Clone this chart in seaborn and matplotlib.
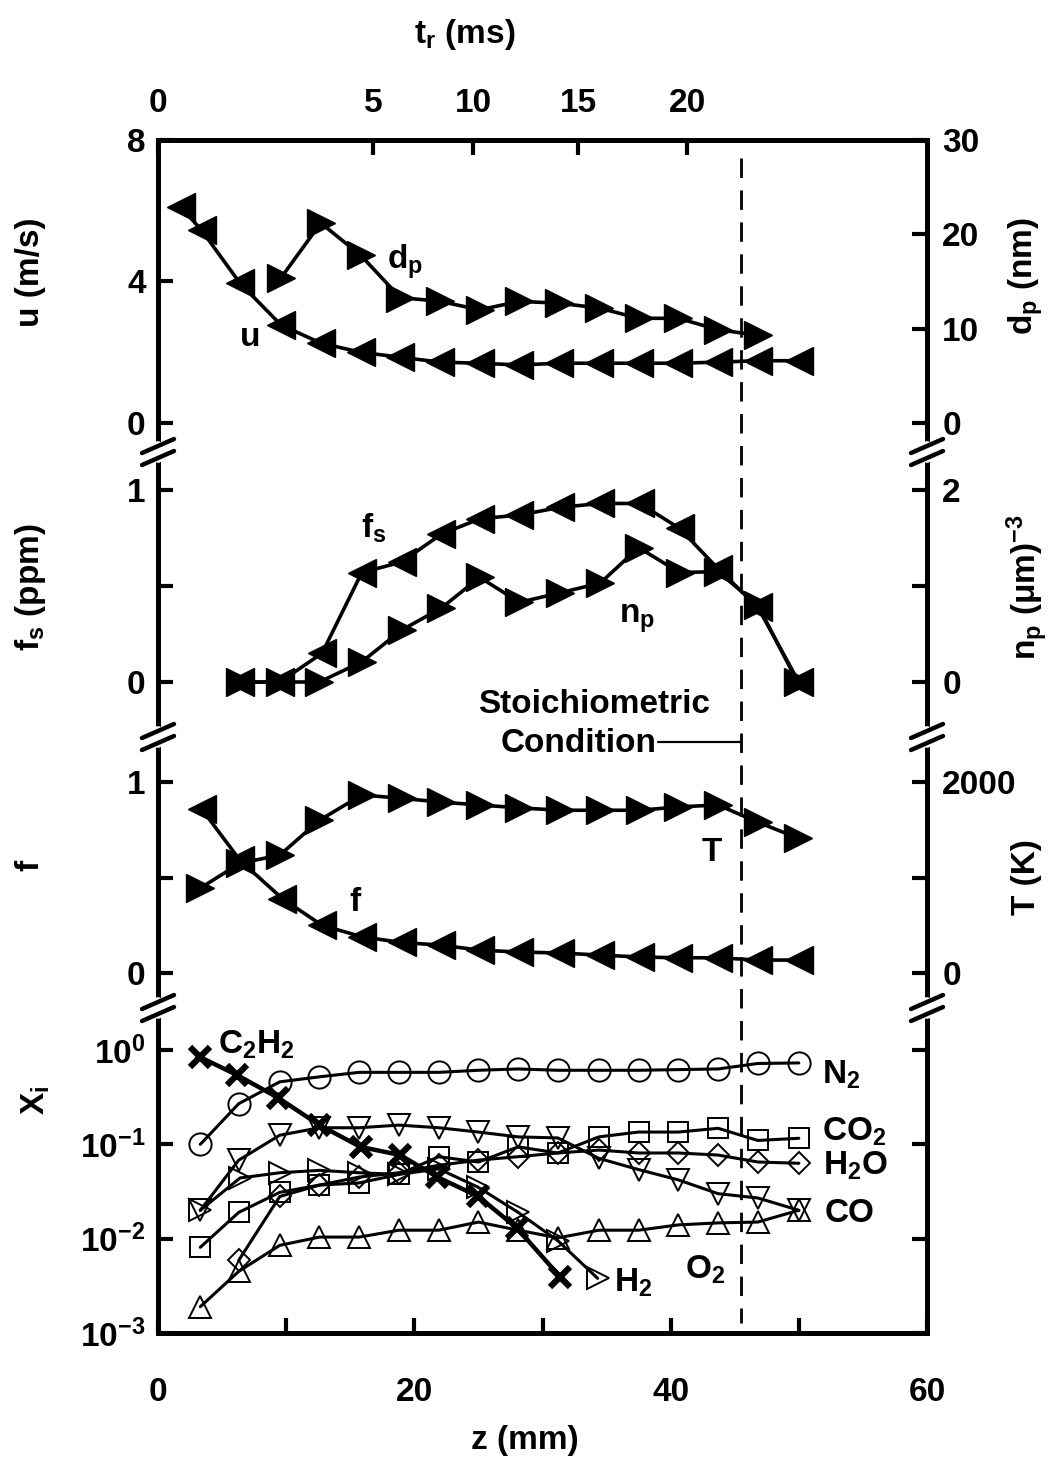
import numpy as np
import matplotlib
matplotlib.use("Agg")
import matplotlib.pyplot as plt
import seaborn as sns
from matplotlib.lines import Line2D
from matplotlib import transforms
from matplotlib.ticker import FixedLocator, FuncFormatter, NullLocator

# ---------------- data ----------------
# panel 1 : axial velocity u (m/s) and particle diameter d_p (nm)
z_u = [1.8, 3.4, 6.4, 9.6, 12.7, 15.8, 18.9, 22.0, 25.1, 28.2, 31.3, 34.4, 37.5, 40.6, 43.7, 46.8, 50.0]
u_vals = [6.1, 5.45, 3.95, 2.77, 2.26, 2.0, 1.86, 1.72, 1.69, 1.64, 1.69, 1.69, 1.69, 1.69, 1.72, 1.76, 1.76]
z_dp = [9.6, 12.7, 15.8, 18.9, 22.0, 25.1, 28.2, 31.3, 34.4, 37.5, 40.6, 43.7, 46.8]
dp_vals = [15.4, 21.2, 17.8, 13.3, 12.9, 12.0, 12.9, 12.7, 12.2, 11.1, 11.1, 9.9, 9.3]

# panel 2 : soot volume fraction f_s (ppm) and number density n_p
z_fs = [6.4, 9.5, 12.8, 15.9, 19.0, 22.1, 25.1, 28.2, 31.4, 34.5, 37.6, 40.7, 43.7, 46.8, 50.0]
fs_vals = [0.0, 0.0, 0.15, 0.57, 0.625, 0.77, 0.85, 0.87, 0.91, 0.93, 0.93, 0.80, 0.59, 0.39, 0.0]
z_np = [6.4, 9.5, 12.6, 15.9, 19.0, 22.1, 25.1, 28.2, 31.4, 34.5, 37.5, 40.7, 43.7, 46.8, 49.9]
np_vals = [0.0, 0.0, 0.0, 0.21, 0.54, 0.77, 1.09, 0.83, 0.93, 1.03, 1.40, 1.14, 1.15, 0.80, 0.0]

# panel 3 : mixture fraction f and temperature T (K)
z_f = [3.4, 6.4, 9.7, 12.8, 15.9, 19.0, 22.1, 25.1, 28.2, 31.4, 34.5, 37.6, 40.6, 43.7, 46.8, 50.0]
f_vals = [0.86, 0.59, 0.39, 0.25, 0.19, 0.16, 0.146, 0.12, 0.11, 0.105, 0.094, 0.084, 0.08, 0.08, 0.068, 0.068]
z_T = [3.3, 6.4, 9.5, 12.6, 15.9, 19.0, 22.1, 25.1, 28.2, 31.4, 34.5, 37.6, 40.6, 43.7, 46.8, 49.9]
T_vals = [890, 1150, 1235, 1600, 1865, 1830, 1790, 1760, 1730, 1705, 1705, 1705, 1740, 1760, 1580, 1415]

# panel 4 : species mole fractions X_i
z_sp = [3.3, 6.3, 9.5, 12.6, 15.7, 18.8, 21.9, 25.0, 28.1, 31.2, 34.4, 37.5, 40.6, 43.7, 46.8, 50.0]
N2 = [0.10, 0.27, 0.46, 0.52, 0.58, 0.58, 0.58, 0.61, 0.63, 0.61, 0.61, 0.61, 0.62, 0.63, 0.72, 0.73]
CO2 = [0.0081, 0.019, 0.031, 0.037, 0.039, 0.048, 0.074, 0.065, 0.094, 0.081, 0.12, 0.135, 0.135, 0.148, 0.11, 0.116]
CO = [0.020, 0.068, 0.125, 0.15, 0.15, 0.16, 0.15, 0.135, 0.12, 0.117, 0.071, 0.054, 0.042, 0.030, 0.027, 0.020]
O2 = [0.0019, 0.0045, 0.0085, 0.0104, 0.0104, 0.0123, 0.0123, 0.015, 0.0123, 0.0102, 0.0123, 0.0123, 0.014, 0.0147, 0.015, 0.020]
z_h2o = [6.3, 9.5, 12.6, 15.7, 18.8, 21.9, 25.0, 28.1, 31.2, 34.4, 37.5, 40.6, 43.7, 46.8, 50.0]
H2O = [0.0059, 0.028, 0.037, 0.045, 0.050, 0.060, 0.068, 0.074, 0.081, 0.087, 0.081, 0.081, 0.077, 0.065, 0.063]
z_h2 = [3.3, 6.4, 9.5, 12.6, 15.7, 18.8, 21.9, 25.0, 28.1, 31.2, 34.3]
H2 = [0.020, 0.044, 0.050, 0.053, 0.050, 0.048, 0.055, 0.035, 0.019, 0.0095, 0.0038]
z_c2h2 = [3.3, 6.2, 9.4, 12.6, 15.8, 18.9, 21.8, 25.0, 28.0, 31.4]
C2H2 = [0.84, 0.54, 0.31, 0.16, 0.094, 0.077, 0.045, 0.028, 0.013, 0.0039]

# top axis : residence time t_r (ms) ticks and their z positions (mm)
tr_labels = ["0", "5", "10", "15", "20"]
tr_z = [0.0, 16.8, 24.6, 32.8, 41.3]
z_stoich = 45.5

# ---------------- style ----------------
sns.set_theme(style="white")
plt.rcParams["font.family"] = ["Liberation Sans", "DejaVu Sans"]
plt.rcParams["font.weight"] = "bold"
plt.rcParams["axes.labelweight"] = "bold"
plt.rcParams["text.color"] = "black"
plt.rcParams["axes.labelcolor"] = "black"
plt.rcParams["xtick.color"] = "black"
plt.rcParams["ytick.color"] = "black"
plt.rcParams["mathtext.fontset"] = "custom"
plt.rcParams["mathtext.rm"] = "Liberation Sans:bold"
plt.rcParams["mathtext.bf"] = "Liberation Sans:bold"
plt.rcParams["mathtext.it"] = "Liberation Sans:bold"
plt.rcParams["mathtext.default"] = "bf"
plt.rcParams["axes.unicode_minus"] = True

FS = 24
W, H = 1057, 1459
XL, XR = 158, 927
bounds = [140, 452, 737, 1008, 1333]

fig = plt.figure(figsize=(W / 100, H / 100), dpi=100)
fig.patch.set_facecolor("white")


def fx(px):
    return px / W


def fy(py):
    return 1 - py / H


def rect(t, b):
    return [fx(XL), fy(b), fx(XR) - fx(XL), (b - t) / H]


axes = [fig.add_axes(rect(bounds[i], bounds[i + 1])) for i in range(4)]
ax1, ax2, ax3, ax4 = axes
ax1r = ax1.twinx()
ax2r = ax2.twinx()
ax3r = ax3.twinx()
ax1t = ax1.twiny()

SW = 3.6
for a in [ax1, ax2, ax3, ax4, ax1r, ax2r, ax3r, ax1t]:
    a.set_facecolor("none")
    for s in a.spines.values():
        s.set_visible(False)
        s.set_linewidth(SW)
        s.set_color("black")
    a.grid(False)
    a.set_xlim(0, 60)
    a.tick_params(axis="both", which="both", direction="in", length=11, width=3,
                  labelsize=FS, color="black", labelcolor="black")

for a in [ax1, ax2, ax3, ax4]:
    a.spines["left"].set_visible(True)
for a in [ax1r, ax2r, ax3r]:
    a.spines["right"].set_visible(True)
ax4.spines["right"].set_visible(True)
ax4.spines["bottom"].set_visible(True)
ax1t.spines["top"].set_visible(True)

for a in [ax1, ax2, ax3, ax1r, ax2r, ax3r]:
    a.tick_params(axis="x", which="both", bottom=False, top=False,
                  labelbottom=False, labeltop=False)
ax1t.tick_params(axis="x", which="both", bottom=False, labelbottom=False,
                 top=True, labeltop=True, pad=15)
ax1t.tick_params(axis="y", left=False, right=False, labelleft=False, labelright=False)
ax1t.xaxis.set_major_locator(FixedLocator(tr_z))
ax1t.set_xticklabels(tr_labels)

for a in [ax1, ax2, ax3, ax4]:
    a.tick_params(axis="y", which="both", left=True, right=False, labelleft=True,
                  labelright=False, pad=9)
for a in [ax1r, ax2r, ax3r]:
    a.tick_params(axis="y", which="both", left=False, right=True, labelleft=False,
                  labelright=True, pad=11)


def draw(ax, x, y, marker, ms, lw, mfc="black", mew=1.0, zorder=3):
    sns.lineplot(x=x, y=y, ax=ax, color="black", linewidth=lw, marker=marker,
                 markersize=ms, markerfacecolor=mfc, markeredgecolor="black",
                 markeredgewidth=mew, sort=False, estimator=None, legend=False,
                 zorder=zorder)


# ---------------- panel 1 ----------------
draw(ax1, z_u, u_vals, "<", 20, 2.6)
draw(ax1r, z_dp, dp_vals, ">", 20, 2.6)
ax1.set_ylim(-0.82, 8.0)
ax1r.set_ylim(-3.07, 30.0)
ax1.set_yticks([0, 4, 8])
ax1r.set_yticks([0, 10, 20, 30])
ax1.text(7.2, 2.43, "u", fontsize=FS, ha="center", va="center")
ax1.text(19.3, 4.55, r"d$_\mathbf{p}$", fontsize=FS, ha="center", va="center")

# ---------------- panel 2 ----------------
draw(ax2, z_fs, fs_vals, "<", 20, 2.6)
draw(ax2r, z_np, np_vals, ">", 20, 2.6)
ax2.set_ylim(-0.286, 1.198)
ax2r.set_ylim(-0.573, 2.396)
ax2.set_yticks([0, 0.5, 1])
ax2.set_yticklabels(["0", "", "1"])
ax2r.set_yticks([0, 1, 2])
ax2r.set_yticklabels(["0", "", "2"])
ax2.text(16.8, 0.80, r"f$_\mathbf{s}$", fontsize=FS, ha="center", va="center")
ax2.text(37.4, 0.33, r"n$_\mathbf{p}$", fontsize=FS, ha="center", va="center")
ax2.text(34.0, -0.115, "Stoichiometric", fontsize=FS, ha="center", va="center")

# ---------------- panel 3 ----------------
draw(ax3, z_f, f_vals, "<", 20, 2.6)
draw(ax3r, z_T, T_vals, ">", 20, 2.6)
ax3.set_ylim(-0.183, 1.236)
ax3r.set_ylim(-366, 2472)
ax3.set_yticks([0, 0.5, 1])
ax3.set_yticklabels(["0", "", "1"])
ax3r.set_yticks([0, 1000, 2000])
ax3r.set_yticklabels(["0", "", "2000"])
ax3.text(15.4, 0.37, "f", fontsize=FS, ha="center", va="center")
ax3.text(43.2, 0.63, "T", fontsize=FS, ha="center", va="center")
ax3.text(32.8, 1.20, "Condition", fontsize=FS, ha="center", va="center")
ax3.plot([39.0, z_stoich], [1.21, 1.21], color="black", lw=1.6, clip_on=False)

# ---------------- panel 4 ----------------
ax4.set_yscale("log")
ax4.set_ylim(1e-3, 2.79)
draw(ax4, z_sp, N2, "o", 16, 2.2, mfc="none", mew=1.4)
draw(ax4, z_sp, CO2, "s", 14, 2.2, mfc="none", mew=1.4)
draw(ax4, z_h2o, H2O, "D", 11, 2.2, mfc="none", mew=1.4)
draw(ax4, z_sp, CO, "v", 16, 2.2, mfc="none", mew=1.4)
draw(ax4, z_sp, O2, "^", 16, 2.2, mfc="none", mew=1.4)
draw(ax4, z_h2, H2, ">", 16, 2.2, mfc="none", mew=1.4)
draw(ax4, z_c2h2, C2H2, "x", 15, 3.2, mew=4.5, zorder=4)
ax4.yaxis.set_major_locator(FixedLocator([1e-3, 1e-2, 1e-1, 1e0]))
ax4.yaxis.set_minor_locator(NullLocator())
ax4.yaxis.set_major_formatter(FuncFormatter(lambda v, p: r"$10^{%d}$" % int(round(np.log10(v)))))
ax4.tick_params(axis="y", which="both", left=True, right=True, labelleft=True, labelright=False, pad=9)
ax4.xaxis.set_major_locator(FixedLocator([0, 20, 40, 60]))
ax4.xaxis.set_minor_locator(FixedLocator([10, 30, 50]))
ax4.tick_params(axis="x", which="both", bottom=True, top=False, labelbottom=True, pad=32,
                direction="in", length=11, width=3)
ax4.set_xticklabels(["0", "20", "40", "60"])

lab_kw = dict(fontsize=FS, ha="center", va="center")
ax4.text(7.7, 1.13, r"C$_\mathbf{2}$H$_\mathbf{2}$", **lab_kw)
ax4.text(51.8, 0.54, r"N$_\mathbf{2}$", fontsize=FS, ha="left", va="center")
ax4.text(51.8, 0.135, r"CO$_\mathbf{2}$", fontsize=FS, ha="left", va="center")
ax4.text(51.9, 0.059, r"H$_\mathbf{2}$O", fontsize=FS, ha="left", va="center")
ax4.text(52.0, 0.0187, "CO", fontsize=FS, ha="left", va="center")
ax4.text(42.7, 0.0047, r"O$_\mathbf{2}$", **lab_kw)
ax4.text(35.6, 0.0034, r"H$_\mathbf{2}$", fontsize=FS, ha="left", va="center")

# ---------------- axis titles ----------------
fig.text(fx(30), fy(272), "u (m/s)", rotation=90, **lab_kw)
fig.text(fx(30), fy(587), r"f$_\mathbf{s}$ (ppm)", rotation=90, **lab_kw)
fig.text(fx(30), fy(865), "f", rotation=90, **lab_kw)
fig.text(fx(36), fy(1100), r"X$_\mathbf{i}$", rotation=90, **lab_kw)
fig.text(fx(1026), fy(276), r"d$_\mathbf{p}$ (nm)", rotation=90, **lab_kw)
fig.text(fx(1028), fy(587), r"n$_\mathbf{p}$ (μm)$^\mathbf{-3}$", rotation=90, **lab_kw)
fig.text(fx(1026), fy(877), "T (K)", rotation=90, **lab_kw)
fig.text(fx(525), fy(1440), "z (mm)", **lab_kw)
fig.text(fx(465), fy(35), r"t$_\mathbf{r}$ (ms)", **lab_kw)

# ---------------- stoichiometric dashed line ----------------
blend = transforms.blended_transform_factory(ax4.transData, fig.transFigure)
fig.add_artist(Line2D([z_stoich, z_stoich], [fy(158), fy(1323)], transform=blend,
                      color="black", lw=2.0, linestyle=(0, (7, 4.5)), zorder=5))

# ---------------- axis break marks ----------------
def brk(xpx, ypx):
    fig.add_artist(Line2D([fx(xpx), fx(xpx)], [fy(ypx - 6), fy(ypx + 6)], color="white",
                          lw=7, transform=fig.transFigure, zorder=20))
    for dy in (-6, 6):
        fig.add_artist(Line2D([fx(xpx - 16), fx(xpx + 16)],
                              [fy(ypx + dy + 7), fy(ypx + dy - 7)], color="black", lw=3.2,
                              solid_capstyle="round", transform=fig.transFigure, zorder=21))


for yb in bounds[1:4]:
    brk(XL, yb)
    brk(XR, yb)

fig.savefig("out.png", dpi=100, facecolor="white")
